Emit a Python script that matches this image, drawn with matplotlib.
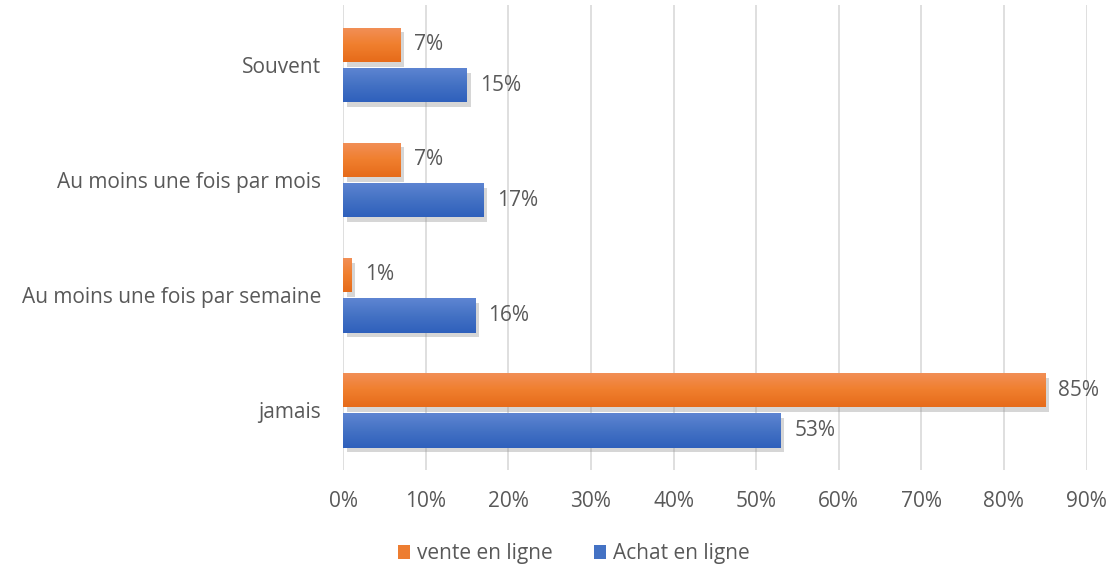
import numpy as np
import matplotlib
matplotlib.use("Agg")
import matplotlib.pyplot as plt
import matplotlib.patheffects as pe
from matplotlib.colors import LinearSegmentedColormap
from matplotlib.patches import Patch

# donnees
categories = ["Souvent", "Au moins une fois par mois", "Au moins une fois par semaine", "jamais"]
vente = [7, 7, 1, 85]
achat = [15, 17, 16, 53]
xticks = [0, 10, 20, 30, 40, 50, 60, 70, 80, 90]

plt.rcParams["font.family"] = ["Open Sans", "DejaVu Sans"]
texte = "#595959"
fs = 15

fig = plt.figure(figsize=(11.07, 5.67), dpi=100)
ax = fig.add_axes([0.31, 0.171, 0.6715, 0.82])

y = np.arange(len(categories))
h = 0.3

orange_cm = LinearSegmentedColormap.from_list("o", ["#F29058", "#F07F2E", "#E66B1A"])
bleu_cm = LinearSegmentedColormap.from_list("b", ["#5E85D2", "#4472C4", "#2F60BC"])
grad = np.linspace(0, 1, 64).reshape(-1, 1)

ombre = [pe.SimplePatchShadow(offset=(2.5, -3.5), shadow_rgbFace="#8c8c8c", alpha=0.35), pe.Normal()]

b1 = ax.barh(y - 0.175, vente, height=h, color="#ED7D31", zorder=3, path_effects=ombre)
b2 = ax.barh(y + 0.175, achat, height=h, color="#4472C4", zorder=3, path_effects=ombre)

# degrade sur les barres
for barres, cm in [(b1, orange_cm), (b2, bleu_cm)]:
    for r in barres:
        x0, y0 = r.get_x(), r.get_y()
        im = ax.imshow(grad, cmap=cm, aspect="auto", zorder=4,
                       extent=[x0, x0 + r.get_width(), y0 + r.get_height(), y0],
                       origin="upper")
        im.set_clip_path(r)

for r, v in zip(b1, vente):
    ax.text(v + 1.6, r.get_y() + h / 2, f"{v}%", va="center", ha="left", fontsize=fs, color=texte)
for r, v in zip(b2, achat):
    ax.text(v + 1.6, r.get_y() + h / 2, f"{v}%", va="center", ha="left", fontsize=fs, color=texte)

ax.set_xlim(0, 90)
ax.set_ylim(3.52, -0.52)
ax.set_xticks(xticks)
ax.set_xticklabels([f"{t}%" for t in xticks])
ax.set_yticks(y)
ax.set_yticklabels(categories)
ax.tick_params(length=0, labelsize=fs, colors=texte)
ax.tick_params(axis="x", pad=15)
ax.tick_params(axis="y", pad=16)
ax.grid(True, axis="x", color="#D9D9D9", linewidth=1.2, zorder=0)
for s in ax.spines.values():
    s.set_visible(False)

poignees = [Patch(facecolor="#ED7D31", label="vente en ligne"),
            Patch(facecolor="#4472C4", label="Achat en ligne")]
ax.legend(handles=poignees, loc="center", bbox_to_anchor=(0.31, -0.18), ncol=2, frameon=False,
          fontsize=fs, labelcolor=texte, handlelength=0.6, handleheight=0.6, handletextpad=0.3,
          columnspacing=2.0)

fig.savefig("out.png", dpi=100)
